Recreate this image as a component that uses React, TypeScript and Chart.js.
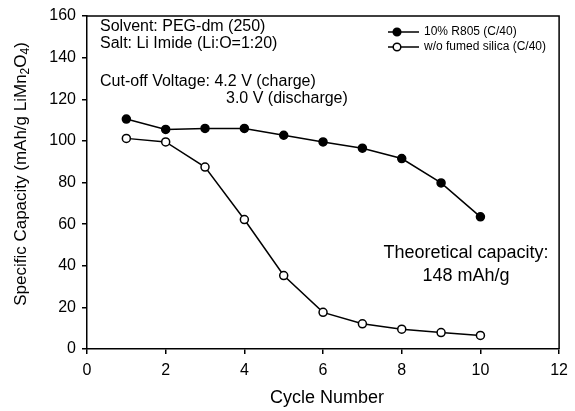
import React, { useEffect, useRef } from "react";
import { Chart, registerables } from "chart.js";

Chart.register(...registerables);

const cycles = [1, 2, 3, 4, 5, 6, 7, 8, 9, 10];
const withR805 = [110.5, 105.5, 106, 106, 102.7, 99.5, 96.5, 91.5, 79.8, 63.5];
const withoutSilica = [101.2, 99.5, 87.4, 62.2, 35.3, 17.6, 12.1, 9.5, 7.9, 6.5];
const seriesLabels = ["10% R805 (C/40)", "w/o fumed silica (C/40)"];
const xTicks = [0, 2, 4, 6, 8, 10, 12];
const yTicks = [0, 20, 40, 60, 80, 100, 120, 140, 160];

const FONT = "'Liberation Sans', Arial, sans-serif";

const decorPlugin = {
  id: "decor",
  afterDraw(chart: any) {
    const { ctx, chartArea } = chart;
    const { left, right, top, bottom } = chartArea;
    ctx.save();
    // frame top/right
    ctx.strokeStyle = "#000";
    ctx.lineWidth = 1.5;
    ctx.beginPath();
    ctx.moveTo(left, top);
    ctx.lineTo(right, top);
    ctx.lineTo(right, bottom);
    ctx.stroke();

    ctx.fillStyle = "#000";
    ctx.textBaseline = "middle";
    // annotations
    ctx.font = `16px ${FONT}`;
    ctx.textAlign = "left";
    ctx.fillText("Solvent: PEG-dm (250)", 100, 27);
    ctx.fillText("Salt: Li Imide (Li:O=1:20)", 100, 44);
    ctx.fillText("Cut-off Voltage: 4.2 V (charge)", 100, 82);
    ctx.fillText("3.0 V (discharge)", 226, 99);
    ctx.font = `18px ${FONT}`;
    ctx.textAlign = "center";
    ctx.fillText("Theoretical capacity:", 466, 253);
    ctx.fillText("148 mAh/g", 466, 276);

    // legend
    const rows = [
      { y: 32, fill: "#000", label: seriesLabels[0] },
      { y: 47, fill: "#fff", label: seriesLabels[1] },
    ];
    ctx.font = `12px ${FONT}`;
    ctx.textAlign = "left";
    rows.forEach((r) => {
      ctx.lineWidth = 1.5;
      ctx.strokeStyle = "#000";
      ctx.beginPath();
      ctx.moveTo(388, r.y);
      ctx.lineTo(419, r.y);
      ctx.stroke();
      ctx.beginPath();
      ctx.arc(397, r.y, 3.8, 0, Math.PI * 2);
      ctx.fillStyle = r.fill;
      ctx.fill();
      ctx.stroke();
      ctx.fillStyle = "#000";
      ctx.fillText(r.label, 424, r.y);
    });

    // x title
    ctx.font = `18px ${FONT}`;
    ctx.textAlign = "center";
    ctx.fillText("Cycle Number", 327, 398);

    // y title with subscripts
    ctx.translate(21, 174);
    ctx.rotate(-Math.PI / 2);
    const parts: [string, boolean][] = [
      ["Specific Capacity (mAh/g LiMn", false],
      ["2", true],
      ["O", false],
      ["4", true],
      [")", false],
    ];
    const big = `17px ${FONT}`;
    const small = `12px ${FONT}`;
    let total = 0;
    parts.forEach(([t, sub]) => {
      ctx.font = sub ? small : big;
      total += ctx.measureText(t).width;
    });
    let x = -total / 2;
    ctx.textAlign = "left";
    parts.forEach(([t, sub]) => {
      ctx.font = sub ? small : big;
      ctx.fillText(t, x, sub ? 5 : 0);
      x += ctx.measureText(t).width;
    });
    ctx.restore();
  },
};

export default function App() {
  const ref = useRef<HTMLCanvasElement>(null);
  useEffect(() => {
    const canvas = ref.current!;
    const chart = new Chart(canvas, {
      type: "line",
      data: {
        datasets: [
          {
            label: seriesLabels[0],
            data: cycles.map((c, i) => ({ x: c, y: withR805[i] })),
            borderColor: "#000",
            borderWidth: 1.5,
            pointBackgroundColor: "#000",
            pointBorderColor: "#000",
            pointBorderWidth: 1.5,
            pointRadius: 4,
            fill: false,
          },
          {
            label: seriesLabels[1],
            data: cycles.map((c, i) => ({ x: c, y: withoutSilica[i] })),
            borderColor: "#000",
            borderWidth: 1.5,
            pointBackgroundColor: "#fff",
            pointBorderColor: "#000",
            pointBorderWidth: 1.5,
            pointRadius: 4,
            fill: false,
          },
        ],
      },
      options: {
        animation: false,
        responsive: false,
        devicePixelRatio: 1,
        layout: { padding: { top: 16, right: 11, left: 0, bottom: 0 } },
        plugins: { legend: { display: false }, tooltip: { enabled: false } },
        scales: {
          x: {
            type: "linear",
            min: 0,
            max: 12,
            afterBuildTicks: (s: any) => {
              s.ticks = xTicks.map((v) => ({ value: v }));
            },
            afterFit: (s: any) => {
              s.height = 62;
            },
            grid: {
              drawOnChartArea: false,
              drawTicks: true,
              tickLength: 5,
              color: "#000",
              lineWidth: 1.5,
            },
            border: { color: "#000", width: 1.5 },
            ticks: {
              color: "#000",
              font: { family: FONT, size: 16 },
              padding: 7,
              maxRotation: 0,
            },
          },
          y: {
            type: "linear",
            min: 0,
            max: 160,
            afterBuildTicks: (s: any) => {
              s.ticks = yTicks.map((v) => ({ value: v }));
            },
            afterFit: (s: any) => {
              s.width = 87;
            },
            grid: {
              drawOnChartArea: false,
              drawTicks: true,
              tickLength: 5,
              color: "#000",
              lineWidth: 1.5,
            },
            border: { color: "#000", width: 1.5 },
            ticks: {
              color: "#000",
              font: { family: FONT, size: 16 },
              padding: 6,
            },
          },
        },
      },
      plugins: [decorPlugin],
    } as any);
    return () => chart.destroy();
  }, []);
  return (
    <div style={{ position: "fixed", left: 0, top: 0, width: 575, height: 411, background: "#fff" }}>
      <canvas ref={ref} width={575} height={411} style={{ display: "block", width: 575, height: 411 }} />
    </div>
  );
}
